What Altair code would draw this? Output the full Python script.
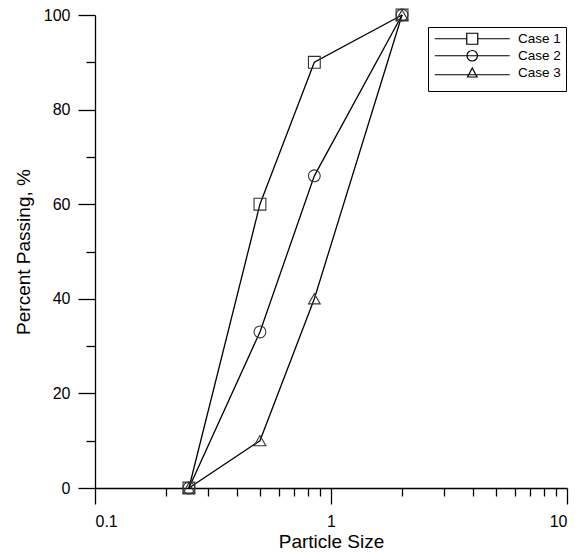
import altair as alt
import pandas as pd

# ---- data ----
particle_size = [0.25, 0.5, 0.85, 2.0]
case1 = [0, 60, 90, 100]
case2 = [0, 33, 66, 100]
case3 = [0, 10, 40, 100]
case_names = ["Case 1", "Case 2", "Case 3"]

x_tick_values = [0.1, 0.2, 0.3, 0.4, 0.5, 0.6, 0.7, 0.8, 0.9,
                 1, 2, 3, 4, 5, 6, 7, 8, 9, 10]
y_tick_values = [0, 10, 20, 30, 40, 50, 60, 70, 80, 90, 100]

rows = []
for name, vals in zip(case_names, [case1, case2, case3]):
    for s, v in zip(particle_size, vals):
        rows.append({"size": s, "pct": v, "case": name})
df = pd.DataFrame(rows)

FONT = "Liberation Sans"

x_enc = alt.X(
    "size:Q",
    scale=alt.Scale(type="log", domain=[0.1, 10], nice=False),
    axis=alt.Axis(
        title="Particle Size",
        values=x_tick_values,
        format="~g",
        labelExpr="(datum.value == 0.1 || datum.value == 1 || datum.value == 10) ? datum.label : ''",
        tickSize={"condition": {"test": "datum.value == 0.1 || datum.value == 1 || datum.value == 10", "value": 16}, "value": 8},
        labelPadding=9,
        titlePadding=3,
        grid=False,
    ),
)
y_enc = alt.Y(
    "pct:Q",
    scale=alt.Scale(domain=[0, 100], nice=False),
    axis=alt.Axis(
        title="Percent Passing, %",
        values=y_tick_values,
        labelExpr="datum.value % 20 == 0 ? datum.label : ''",
        tickSize={"condition": {"test": "datum.value % 20 == 0", "value": 17}, "value": 9},
        labelPadding=8,
        titlePadding=10,
        grid=False,
    ),
)

lines = alt.Chart(df).mark_line(color="black", strokeWidth=1.3).encode(
    x=x_enc, y=y_enc, detail="case:N"
)

points = alt.Chart(df).mark_point(filled=False, color="#333333", size=140, strokeWidth=1.1, opacity=1).encode(
    x=x_enc, y=y_enc,
    shape=alt.Shape("case:N", scale=alt.Scale(domain=case_names,
                                              range=["square", "circle", "triangle-up"]), legend=None),
)

legend_paths = [
    "M-7.5,0H-1.1M1.1,0H7.5M-1.1,-1.1H1.1V1.1H-1.1Z",
    "M-7.5,0H7.5M-1.05,0A1.05,1.05,0,1,1,1.05,0A1.05,1.05,0,1,1,-1.05,0Z",
    "M-7.5,0.4H7.5M0,-0.95L0.95,0.85H-0.95Z",
]

legend_layer = alt.Chart(df).transform_filter("false").mark_point(
    filled=False, color="black", opacity=1
).encode(
    x=x_enc, y=y_enc,
    shape=alt.Shape(
        "case:N",
        scale=alt.Scale(domain=case_names, range=legend_paths),
        legend=alt.Legend(
            title=" ",
            titleOrient="bottom",
            titleFontSize=5,
            titlePadding=2,
            orient="none",
            legendX=333,
            legendY=12,
            direction="vertical",
            strokeColor="black",
            fillColor="white",
            padding=5,
            symbolSize=100,
            symbolOffset=32.5,
            labelOffset=39,
            symbolStrokeColor="black",
            symbolFillColor="transparent",
            symbolStrokeWidth=1.2,
            labelFont=FONT,
            labelFontSize=13.5,
            labelColor="black",
            rowPadding=1,
            cornerRadius=0,
        ),
    ),
)

chart = alt.layer(lines, points, legend_layer).resolve_scale(shape="independent").properties(
    width=472,
    height=473,
    background="white",
    autosize=alt.AutoSizeParams(type="none"),
    padding={"left": 95, "top": 15, "right": 16, "bottom": 67},
).configure_view(stroke=None).configure_axis(
    domainColor="black",
    tickColor="black",
    labelColor="black",
    titleColor="black",
    labelFont=FONT,
    titleFont=FONT,
    labelFontSize=16,
    titleFontSize=19,
    titleFontWeight="normal",
    domainWidth=1.3,
    tickWidth=1.3,
)

chart.save("out.html", embed_options={"renderer": "svg", "actions": False})
